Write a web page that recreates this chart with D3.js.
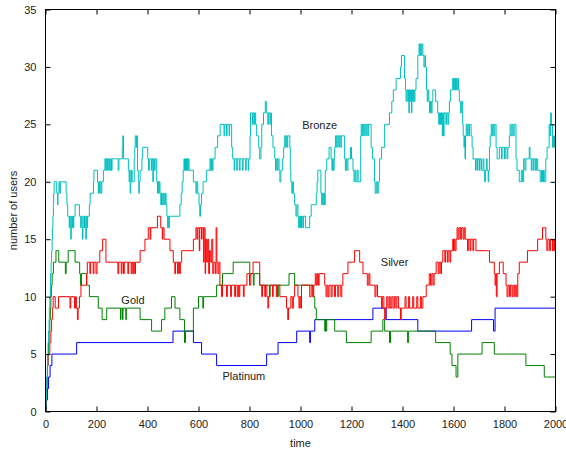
<!DOCTYPE html>
<html>
<head>
<meta charset="utf-8">
<script src="https://cdn.jsdelivr.net/npm/d3@7"></script>
<style>
  body { margin: 0; background: #fff; }
  svg { display: block; }
  text { font-family: "Liberation Sans", Arial, Helvetica, sans-serif; }
</style>
</head>
<body>
<div id="chart"></div>
<script>
// tick values
const xTicks = [0, 200, 400, 600, 800, 1000, 1200, 1400, 1600, 1800, 2000];
const yTicks = [0, 5, 10, 15, 20, 25, 30, 35];

// step series, [time, users] at each change
const bronze = [
  [0,0],[2,1],[4,2],[5,3],[7,4],[9,5],[10,6],[12,7],[14,8],[15,9],[17,10],[19,11],[20,12],[22,13],[24,14],[26,15],[27,16],[29,17],[31,18],[32,19],[34,20],
  [44,19],[47,18],[49,19],[53,20],[56,19],[58,20],[81,19],[84,18],[87,17],[93,16],[95,17],[97,16],[99,15],[101,17],[104,16],[106,17],[109,16],[111,17],
  [116,18],[133,17],[138,16],[140,17],[143,16],[145,15],[147,17],[151,16],[153,17],[156,16],[158,15],[160,17],[163,16],[165,17],[172,18],[175,19],
  [188,20],[190,21],[204,20],[207,19],[209,20],[212,19],[214,20],[218,19],[221,20],[227,21],[233,22],[236,21],[238,22],[241,21],[243,22],
  [248,21],[250,22],[253,21],[256,22],[259,21],[261,22],[285,21],[288,22],[301,23],[303,24],[306,22],[325,21],[328,20],[330,21],[332,19],[334,20],[337,21],[340,20],
  [348,22],[350,23],[352,24],[356,23],[358,24],[361,21],[364,20],[366,19],[368,20],[371,21],[378,22],[381,23],[401,22],[404,21],[407,22],
  [415,21],[417,22],[421,20],[423,22],[427,21],[430,22],[436,20],[439,19],[441,20],[444,19],[446,20],[449,19],[452,18],[455,19],[458,18],[462,19],[466,18],[470,19],[473,18],
  [476,17],[479,16],[481,17],[484,16],[486,17],[527,18],[532,19],[536,20],[540,21],[543,22],[545,21],[547,22],[549,21],[551,22],[553,21],[556,22],[558,21],[560,22],[563,21],
  [580,20],[590,19],[593,20],[597,19],[602,18],[605,17],[608,18],[612,19],[618,20],[631,21],[645,22],[648,21],[651,22],[654,21],[657,22],[665,23],[675,24],[685,25],
  [700,24],[703,25],[710,24],[712,25],[720,24],[722,25],[730,23],[734,22],[740,21],[742,22],[750,21],[752,22],[760,21],[763,22],[772,21],[775,22],[785,21],[787,22],[795,21],[797,22],
  [802,24],[804,26],[812,25],[814,26],[818,25],[820,26],[824,25],[828,24],[836,23],[840,22],[845,23],[848,25],[855,26],[862,27],[866,26],[872,25],[874,26],[880,25],[883,26],
  [886,24],[892,23],[899,22],[902,21],[905,22],[909,21],[912,22],[916,21],[919,20],[923,21],[930,22],[934,23],[938,24],[942,23],[944,24],[948,23],[950,24],
  [958,23],[960,21],[962,20],[966,19],[969,20],[972,19],[977,18],[982,17],[986,18],[990,17],[993,16],[995,17],[998,16],[1000,17],[1004,16],[1006,17],[1010,16],[1012,17],
  [1020,16],[1036,17],[1042,18],[1062,19],[1065,20],[1068,21],[1080,19],[1083,18],[1085,19],[1088,18],[1091,19],[1094,18],[1097,21],[1103,22],[1112,23],
  [1120,22],[1123,21],[1126,22],[1129,21],[1132,22],[1134,23],[1137,24],[1142,23],[1144,24],[1150,23],[1152,24],[1158,23],[1160,24],[1173,22],[1176,21],[1179,22],[1182,21],
  [1186,22],[1196,23],[1200,22],[1206,21],[1210,20],[1213,21],[1217,20],[1222,21],[1226,20],[1236,24],[1238,25],[1242,24],[1244,25],[1248,24],[1250,25],[1256,24],[1258,25],[1264,24],[1266,25],
  [1277,23],[1282,22],[1290,20],[1293,19],[1297,20],[1301,19],[1305,20],[1310,22],[1318,23],[1330,25],[1349,26],[1358,27],[1364,28],[1375,29],[1392,30],[1396,31],
  [1408,29],[1412,28],[1414,27],[1417,28],[1421,27],[1423,28],[1425,26],[1427,28],[1430,27],[1432,28],[1435,26],[1437,28],[1440,27],[1443,28],[1446,27],[1449,28],
  [1453,29],[1460,31],[1465,32],[1468,31],[1470,32],[1473,31],[1476,32],[1480,31],[1484,30],[1488,31],[1490,30],[1494,28],[1497,27],[1500,28],[1503,27],
  [1506,26],[1510,27],[1513,26],[1516,27],[1519,28],[1530,27],[1538,26],[1542,25],[1545,26],[1549,25],[1553,26],[1556,24],[1558,26],[1561,24],[1563,26],[1570,25],[1573,26],[1578,25],[1581,26],
  [1584,27],[1588,28],[1597,29],[1599,28],[1601,29],[1603,28],[1606,29],[1608,28],[1611,29],[1614,28],[1617,29],[1620,28],[1623,27],[1628,26],[1632,27],
  [1636,25],[1638,24],[1641,23],[1643,24],[1645,22],[1647,24],[1650,25],[1653,24],[1656,25],[1660,24],[1663,25],[1669,24],[1673,23],[1677,22],
  [1686,21],[1689,22],[1694,21],[1696,22],[1702,21],[1704,22],[1710,21],[1716,22],[1719,21],[1722,20],[1725,21],[1729,22],[1732,21],[1736,20],[1738,21],
  [1741,23],[1744,24],[1748,25],[1751,24],[1754,25],[1758,24],[1762,25],[1767,23],[1771,22],[1780,23],[1788,22],[1791,23],[1800,22],[1803,23],[1810,22],[1813,23],
  [1819,24],[1822,25],[1826,24],[1830,25],[1834,24],[1838,25],[1845,22],[1849,21],[1858,20],[1866,21],[1871,20],[1875,22],[1880,21],[1884,22],
  [1897,23],[1900,22],[1905,21],[1908,22],[1913,21],[1916,22],[1922,21],[1925,22],[1930,21],[1940,20],[1945,21],[1949,20],[1953,21],[1956,20],
  [1962,22],[1967,23],[1975,25],[1978,24],[1981,26],[1984,25],[1988,23],[1992,24],[1996,23],[2000,23]
];

const silver = [
  [0,0],[2,1],[4,2],[6,3],[8,4],[10,5],[17,6],[21,7],[24,8],[27,9],[30,10],[38,9],[51,10],[96,9],[99,10],[114,9],[118,10],[121,9],[125,8],[128,9],[133,10],[139,11],
  [161,12],[164,13],[174,12],[177,13],[187,12],[190,13],[198,12],[202,13],[213,14],[224,15],[237,13],
  [284,12],[287,13],[297,12],[300,13],[306,12],[309,13],[323,12],[326,13],[336,12],[339,13],[343,12],[346,13],[350,12],[353,13],
  [371,14],[390,15],[403,16],[410,15],[413,16],[439,17],[452,16],[458,15],[460,16],[465,15],[488,14],
  [501,13],[507,12],[510,13],[518,12],[521,13],[526,12],[529,13],[534,14],[580,15],[590,16],[594,15],[597,16],[603,14],[605,16],[612,15],[614,16],[620,13],[622,16],[626,12],[628,15],
  [632,13],[636,15],[640,12],[643,14],[648,13],[652,15],[656,12],[660,13],[666,12],[669,16],[672,13],[676,12],[680,13],[684,11],
  [690,10],[694,11],[710,10],[713,11],[726,10],[729,11],[742,10],[745,11],[752,10],[756,11],[759,10],[762,11],[776,10],[779,11],[790,12],[800,11],[805,12],[814,13],
  [840,11],[848,10],[851,11],[860,10],[863,11],[868,10],[872,9],[875,10],[879,11],[890,10],[893,11],[905,10],[908,11],[919,10],[945,9],[950,8],[953,9],
  [962,10],[968,9],[972,10],[977,11],[990,10],[994,9],[997,10],[1001,9],[1004,11],[1036,10],[1042,11],[1048,10],[1052,11],[1058,12],[1062,11],[1066,12],[1070,11],[1073,12],
  [1095,11],[1100,10],[1104,11],[1108,10],[1112,11],[1120,10],[1124,11],[1133,10],[1137,11],[1146,10],[1150,11],[1158,10],[1162,11],[1166,12],[1186,13],[1212,14],[1232,13],[1245,12],
  [1262,11],[1268,12],[1272,11],[1292,10],[1296,11],[1302,10],[1318,9],[1321,10],[1327,9],[1330,8],[1334,9],[1338,10],[1343,9],[1348,10],[1352,9],[1358,10],[1363,9],[1368,10],[1374,9],[1378,10],[1384,9],
  [1392,8],[1395,9],[1410,10],[1414,9],[1424,10],[1428,9],[1440,10],[1444,9],[1456,10],[1460,9],[1470,10],[1474,9],[1480,10],[1493,11],[1505,12],[1510,11],[1515,12],[1520,11],[1524,12],
  [1532,13],[1540,12],[1544,13],[1550,12],[1553,13],[1558,14],[1566,13],[1569,14],[1576,13],[1579,14],[1586,13],[1589,14],[1597,15],[1600,14],[1603,15],[1606,14],
  [1610,15],[1614,16],[1618,15],[1622,16],[1628,15],[1632,16],[1638,15],[1642,16],[1646,15],[1655,14],[1658,15],[1665,14],[1668,15],[1676,14],[1679,15],[1688,14],
  [1741,13],[1760,12],[1763,11],[1766,12],[1768,10],[1771,12],[1780,13],[1795,12],[1806,11],[1810,10],[1814,11],[1820,10],[1824,11],[1830,10],[1834,11],[1840,10],[1844,11],[1848,10],[1852,12],
  [1858,13],[1890,14],[1930,15],[1949,16],[1962,15],[1966,14],[1970,15],[1976,14],[1980,15],[1988,14],[1993,15],[1996,14],[2000,14]
];

const gold = [
  [0,0],[2,1],[4,2],[6,3],[8,4],[10,5],[12,6],[14,7],[17,8],[19,9],[21,10],[23,11],[26,12],[31,13],[41,14],[52,13],[78,12],[81,13],[89,14],[116,13],[134,12],[137,11],[141,12],[162,11],[172,10],
  [207,9],[222,8],[240,9],[294,8],[296,9],[302,8],[304,9],[315,8],[317,9],[371,8],[416,7],[455,8],[468,9],[494,10],[508,9],[527,8],[545,6],[549,7],
  [580,9],[600,10],[617,9],[620,10],[671,11],[694,12],[736,13],[801,12],[815,11],[818,12],[840,11],[878,10],[881,11],[910,10],[913,11],[955,12],[977,11],
  [1049,10],[1056,9],[1062,8],[1095,7],[1098,8],[1100,7],[1103,8],[1134,7],[1180,6],[1277,7],[1323,8],[1330,7],[1349,6],[1353,7],[1420,6],[1424,7],
  [1530,6],[1587,5],[1594,4],[1610,3],[1617,5],[1712,6],[1760,5],[1884,4],[1956,3],[2000,3]
];

const platinum = [
  [0,0],[4,1],[8,2],[12,3],[18,4],[25,5],[122,6],[500,7],[580,6],[612,5],[671,4],[867,5],[912,6],[985,7],[1036,6],[1039,7],[1056,8],
  [1284,9],[1336,8],[1460,7],[1671,8],[1757,7],[1763,9],[2000,9]
];

// in-plot labels, in data units
const labelNames = ["Bronze", "Silver", "Gold", "Platinum"];
const labelTimes = [1075, 1369, 343, 778];
const labelUsers = [24.9, 13.0, 9.7, 3.1];

const series = [
  {name: "Platinum", color: "#0000ff", data: platinum},
  {name: "Gold", color: "#008000", data: gold},
  {name: "Silver", color: "#ff0000", data: silver},
  {name: "Bronze", color: "#00bfbf", data: bronze}
];

const width = 566;
const height = 452;
const margin = {top: 9.5, right: 10.5, bottom: 40.5, left: 45.5};
const innerW = width - margin.left - margin.right;
const innerH = height - margin.top - margin.bottom;

const x = d3.scaleLinear().domain([0, 2000]).range([0, innerW]);
const y = d3.scaleLinear().domain([0, 35]).range([innerH, 0]);

const svg = d3.select("#chart").append("svg")
    .attr("width", width)
    .attr("height", height);

const g = svg.append("g")
    .attr("transform", `translate(${margin.left},${margin.top})`);

g.append("defs").append("clipPath").attr("id", "clip")
    .append("rect").attr("width", innerW).attr("height", innerH);

const line = d3.line()
    .x(d => x(d[0]))
    .y(d => y(d[1]))
    .curve(d3.curveStepAfter);

g.append("g")
    .attr("clip-path", "url(#clip)")
    .selectAll("path")
    .data(series)
    .join("path")
    .attr("fill", "none")
    .attr("stroke", d => d.color)
    .attr("stroke-width", 1)
    .attr("d", d => line(d.data));

// axes: ticks pointing inward on all four sides
const tickLen = 5;
const axisColor = "#000";
const fontSize = "11px";
const fmt = d3.format("d");

const xAxis = d3.axisBottom(x).tickValues(xTicks).tickFormat(fmt).tickSizeInner(-tickLen).tickSizeOuter(0).tickPadding(tickLen + 4);
const yAxis = d3.axisLeft(y).tickValues(yTicks).tickFormat(fmt).tickSizeInner(-tickLen).tickSizeOuter(0).tickPadding(tickLen + 4);
const xTop = d3.axisTop(x).tickValues(xTicks).tickSizeInner(-tickLen).tickSizeOuter(0).tickFormat("");
const yRight = d3.axisRight(y).tickValues(yTicks).tickSizeInner(-tickLen).tickSizeOuter(0).tickFormat("");

const gx = g.append("g").attr("transform", `translate(0,${innerH})`).call(xAxis);
const gy = g.append("g").call(yAxis);
const gt = g.append("g").call(xTop);
const gr = g.append("g").attr("transform", `translate(${innerW},0)`).call(yRight);

[gx, gy, gt, gr].forEach(a => {
  a.select(".domain").remove();
  a.selectAll(".tick line").attr("stroke", axisColor);
  a.selectAll("text").attr("fill", "#222").style("font-size", fontSize)
      .style("font-family", '"Liberation Sans", Arial, sans-serif');
});

g.append("rect")
    .attr("width", innerW)
    .attr("height", innerH)
    .attr("fill", "none")
    .attr("stroke", axisColor)
    .attr("stroke-width", 1);

// series labels
g.append("g")
    .selectAll("text")
    .data(labelNames)
    .join("text")
    .attr("x", (d, i) => x(labelTimes[i]))
    .attr("y", (d, i) => y(labelUsers[i]))
    .attr("dy", "0.35em")
    .attr("text-anchor", "middle")
    .attr("fill", "#222")
    .style("font-size", fontSize)
    .text(d => d);

// axis titles
svg.append("text")
    .attr("x", margin.left + innerW / 2)
    .attr("y", 447)
    .attr("text-anchor", "middle")
    .attr("fill", "#222")
    .style("font-size", fontSize)
    .text("time");

svg.append("text")
    .attr("transform", `translate(17,${margin.top + innerH / 2}) rotate(-90)`)
    .attr("text-anchor", "middle")
    .attr("fill", "#222")
    .style("font-size", fontSize)
    .text("number of users");
</script>
</body>
</html>
